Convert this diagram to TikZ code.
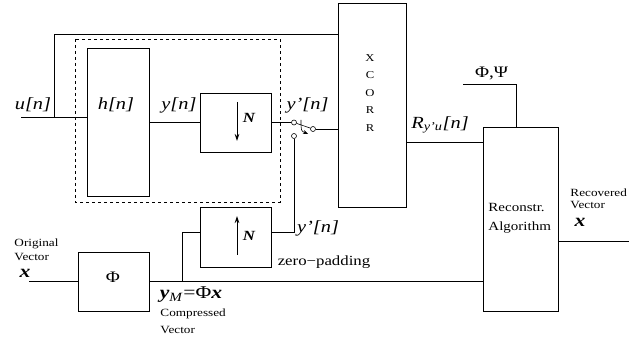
\documentclass[tikz,border=0pt]{standalone}
\usepackage{fontspec}
\setmainfont{Liberation Serif}
\usetikzlibrary{arrows.meta}

\begin{document}
\begin{tikzpicture}[
  x=1pt, y=-1pt, line width=0.8pt,
  blk/.style={draw, inner sep=0},
  port/.style={circle, draw, line width=0.6pt, inner sep=0, minimum size=5pt},
  lbl/.style={inner sep=0, xscale=1.2},
  sig/.style={lbl, font=\fontsize{17}{20}\selectfont\itshape},
  note/.style={lbl, align=left, font=\fontsize{11}{14}\selectfont},
  vec/.style={lbl, font=\fontsize{18}{20}\selectfont\bfseries\itshape},
]
\useasboundingbox (0,0) rectangle (644,344);
% --- bloki ---
\node[blk, minimum width=62pt, minimum height=148pt] (h) at (118,122) {};
\node[blk, minimum width=71pt, minimum height=59pt] (dn) at (235.5,122.5) {};
\node[blk, minimum width=71pt, minimum height=60pt] (up) at (235.5,237) {};
\node[blk, minimum width=71pt, minimum height=59pt] (phi) at (113.5,281.5) {};
\node[blk, minimum width=68pt, minimum height=204pt] (xc) at (372,105) {};
\node[blk, minimum width=75pt, minimum height=184pt] (rec) at (520.5,219) {};
\draw[dashed, line width=0.7pt, dash pattern=on 3pt off 3pt] (75,39) rectangle (280,202);
% --- przelacznik ---
\node[port] (s1) at (294,122.5) {};
\node[port] (s2) at (313,129) {};
\node[port] (s3) at (294,136) {};
\draw[line width=0.6pt] (s1) -- (s2);
\draw[line width=0.6pt, -{Stealth[length=5pt, width=4pt]}] (301,120) .. controls (301,131) .. (308,134);
% --- punkty pomocnicze ---
\coordinate (uin) at (21,117.5);
\coordinate (tap) at (54,117.5);
\coordinate (xin) at (29,281.5);
\coordinate (br) at (182,281.5);
\coordinate (pp) at (463,84);
\coordinate (xout) at (629,241);
% --- polaczenia ---
\draw (uin) -- (h.west |- uin);
\draw (tap) |- (xc.west |- 0,34);
\draw (h.east |- dn.west) -- (dn.west);
\draw (dn.east) -- (s1);
\draw (s2) -- (xc.west |- s2);
\draw (s3) |- (up.east |- 0,232);
\draw (xin) -- (phi.west);
\draw (phi.east) -- (rec.west |- phi.east);
\draw (br) |- (up.west |- 0,232);
\draw (xc.east |- 0,142) -- (rec.west |- 0,142);
\draw (pp) -| ([xshift=-4.5pt]rec.north);
\draw (rec.east |- xout) -- (xout);
% --- strzalki N ---
\draw[-{Stealth[length=7pt, width=4.5pt]}] (237,102) -- (237,141);
\draw[-{Stealth[length=7pt, width=4.5pt]}] (237,255) -- (237,216);
% --- opisy ---
\node[sig] (lu) at (33,105) {u[n]};
\node[sig] (lh) at (116,105) {h[n]};
\node[sig] (ly) at (179,105) {y[n]};
\node[sig] (ly1) at (307.5,105) {y’[n]};
\node[sig] (ly2) at (318,228) {y’[n]};
\node[lbl, font=\fontsize{14}{16}\selectfont\bfseries\itshape] (nd) at (249,118) {N};
\node[lbl, font=\fontsize{14}{16}\selectfont\bfseries\itshape] (nu) at (249,236) {N};
\node[lbl, align=center, font=\fontsize{10.5}{17.5}\selectfont] (lxc) at (370,93) {X\\C\\O\\R\\R};
\node[sig] (lr) at (440,125) {R\textsubscript{y’u}[n]};
\node[lbl, font=\fontsize{16}{18}\selectfont] (lpp) at (491.5,73) {Φ,Ψ};
\node[lbl, font=\fontsize{16}{18}\selectfont] (lphi) at (113,277) {Φ};
\node[lbl, anchor=west, align=left, font=\fontsize{12.5}{19}\selectfont] (lrec) at (488,218.5) {Reconstr.\\Algorithm};
\node[note, anchor=west] (lorig) at (14,250) {Original\\Vector};
\node[vec] (lx) at (25,273) {x};
\node[lbl, font=\fontsize{18}{20}\selectfont] (lym) at (191,295) {\textbf{\textit{y}}\textsubscript{\textit{M}}=Φ\textbf{\textit{x}}};
\node[note, anchor=west, font=\fontsize{11}{17}\selectfont] (lcomp) at (160,321.5) {Compressed\\Vector};
\node[lbl, font=\fontsize{14}{16}\selectfont] (lzp) at (324,262) {zero−padding};
\node[note, anchor=west, font=\fontsize{11}{12}\selectfont] (lrecv) at (570,199) {Recovered\\Vector};
\node[vec] (lx2) at (580,222) {x};
\end{tikzpicture}
\end{document}
